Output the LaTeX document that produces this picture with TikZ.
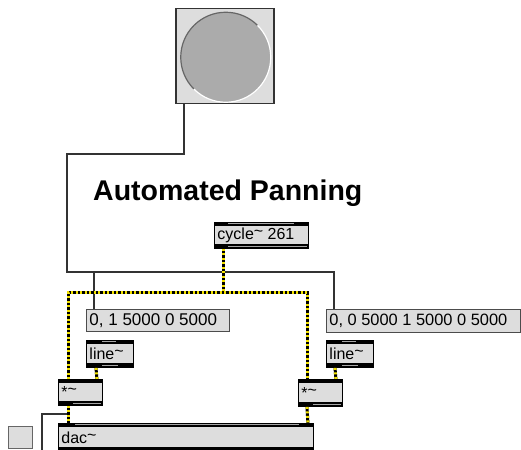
\documentclass[tikz,border=0pt]{standalone}
\usepackage{fontspec}
\setmainfont{Liberation Sans}
\usetikzlibrary{calc}
\definecolor{boxgray}{HTML}{DDDDDD}
\definecolor{knobgray}{HTML}{ABABAB}
\definecolor{cordcol}{HTML}{333333}
\definecolor{sigyellow}{HTML}{F2E200}
\newcommand\tld{\raisebox{0.35ex}{\textasciitilde}}
\newcommand\topgap[3]{\draw[gray!70,line width=1pt] ([xshift=#2pt,yshift=-1.7pt]#1.north west) -- ([xshift=-#3pt,yshift=-1.7pt]#1.north east);}
\newcommand\botgap[3]{\draw[gray!70,line width=1.2pt] ([xshift=#2pt,yshift=2.3pt]#1.south west) -- ([xshift=-#3pt,yshift=2.3pt]#1.south east);}
\newcommand\lft[2]{\makebox[#1pt][l]{#2}}
\begin{document}
\begin{tikzpicture}[x=1pt,y=-1pt,
  msgbox/.style={draw=black!70, fill=boxgray, line width=0.9pt, anchor=north west,
    inner xsep=3pt, inner ysep=0pt, font=\fontsize{17}{19}\selectfont},
  objbox/.style={draw=black, fill=boxgray, line width=0.9pt, anchor=north west,
    inner xsep=3pt, inner ysep=0pt, font=\fontsize{16}{18}\selectfont,
    path picture={
      \fill[black] (path picture bounding box.north west) rectangle ([yshift=-3.5pt]path picture bounding box.north east);
      \fill[black] (path picture bounding box.south west) rectangle ([yshift=4.5pt]path picture bounding box.south east);
    }},
  cord/.style={draw=cordcol, line width=1.3pt},
  sigbase/.style={draw=black, line width=3pt},
  sigdash/.style={draw=sigyellow, line width=3pt, dash pattern=on 2pt off 2.5pt},
]
\clip (0,0) rectangle (521,449);
\fill[white] (0,0) rectangle (521,449);

% button
\node[draw=cordcol, fill=boxgray, line width=1.5pt, anchor=north west, minimum width=98pt, minimum height=95pt, inner sep=0pt] (btn) at (175,8) {};
\node[circle, fill=knobgray, minimum size=90pt, inner sep=0pt] (knob) at ([xshift=1pt,yshift=-1pt]btn.center) {};
\draw[black!60, line width=1.2pt] ([shift={(45:45pt)}]knob.center) arc[start angle=45, end angle=225, radius=45pt];
\draw[white, line width=1.2pt] ([shift={(225:45pt)}]knob.center) arc[start angle=225, end angle=405, radius=45pt];

% title
\node[anchor=base west, inner sep=0pt, font=\fontsize{28.5}{30}\selectfont\bfseries] (title) at (93,200) {Automated Panning};

% objects
\node[objbox, minimum height=26pt] (cyc) at (214,222) {\lft{88}{cycle\tld{} 261}};
\topgap{cyc}{14}{15}\botgap{cyc}{14}{2}
\node[msgbox, minimum height=22pt] (msg1) at (86,309) {\lft{137}{0, 1 5000 0 5000}};
\node[msgbox, minimum height=23pt, font=\fontsize{16.4}{18}\selectfont] (msg2) at (326,309) {\lft{188}{0, 0 5000 1 5000 0 5000}};
\node[objbox, minimum height=27pt] (line1) at (86,340) {\lft{41}{line\tld}};
\topgap{line1}{16}{18}\botgap{line1}{16}{16}
\node[objbox, minimum height=27pt] (line2) at (326,340) {\lft{41}{line\tld}};
\topgap{line2}{16}{18}\botgap{line2}{16}{16}
\node[objbox, minimum height=26pt] (mul1) at (58,379) {\lft{38}{*\tld}};
\botgap{mul1}{15}{2}
\node[objbox, minimum height=27pt] (mul2) at (298,379) {\lft{38}{*\tld}};
\botgap{mul2}{15}{2}
\node[objbox, minimum height=28pt] (dac) at (58,423) {\lft{249}{dac\tld}};
\topgap{dac}{17}{15}
\node[draw=black!60, fill=boxgray, line width=0.8pt, anchor=north west, minimum width=24pt, minimum height=22pt, inner sep=0pt] (sq) at (8,426) {};

% plain cords
\coordinate (c1) at (184,154);
\coordinate (c2) at (67,154);
\coordinate (c3) at (67,272);
\coordinate (c4) at (334,272);
\coordinate (c5) at (94,272);
\coordinate (c6) at (42,452);
\coordinate (c7) at (42,414);
\draw[cord] ([xshift=9pt]btn.south west) -- (c1) -- (c2) -- (c3) -- (c4) -- ([xshift=8pt]msg2.north west);
\draw[cord] (c5) -- ([xshift=8pt]msg1.north west);
\draw[cord] (c6) -- (c7) -| ([xshift=10pt]dac.north west);

% signal cords
\coordinate (sj) at (223,292);
\coordinate (sl) at (68,292);
\coordinate (sr) at (307,292);
\foreach \s in {sigbase,sigdash}{
  \draw[\s] ([xshift=9pt]cyc.south west) -- (sj);
  \draw[\s] ([xshift=10pt]mul1.north west) -- (sl) -- (sr) -- ([xshift=9pt]mul2.north west);
  \draw[\s] ([xshift=10pt]line1.south west) -- ([xshift=-6pt]mul1.north east);
  \draw[\s] ([xshift=9pt]line2.south west) -- ([xshift=-7pt]mul2.north east);
  \draw[\s] ([xshift=10pt]mul1.south west) -- ([xshift=10pt]dac.north west);
  \draw[\s] ([xshift=9pt]mul2.south west) -- ([xshift=-6pt]dac.north east);
}
\end{tikzpicture}
\end{document}
